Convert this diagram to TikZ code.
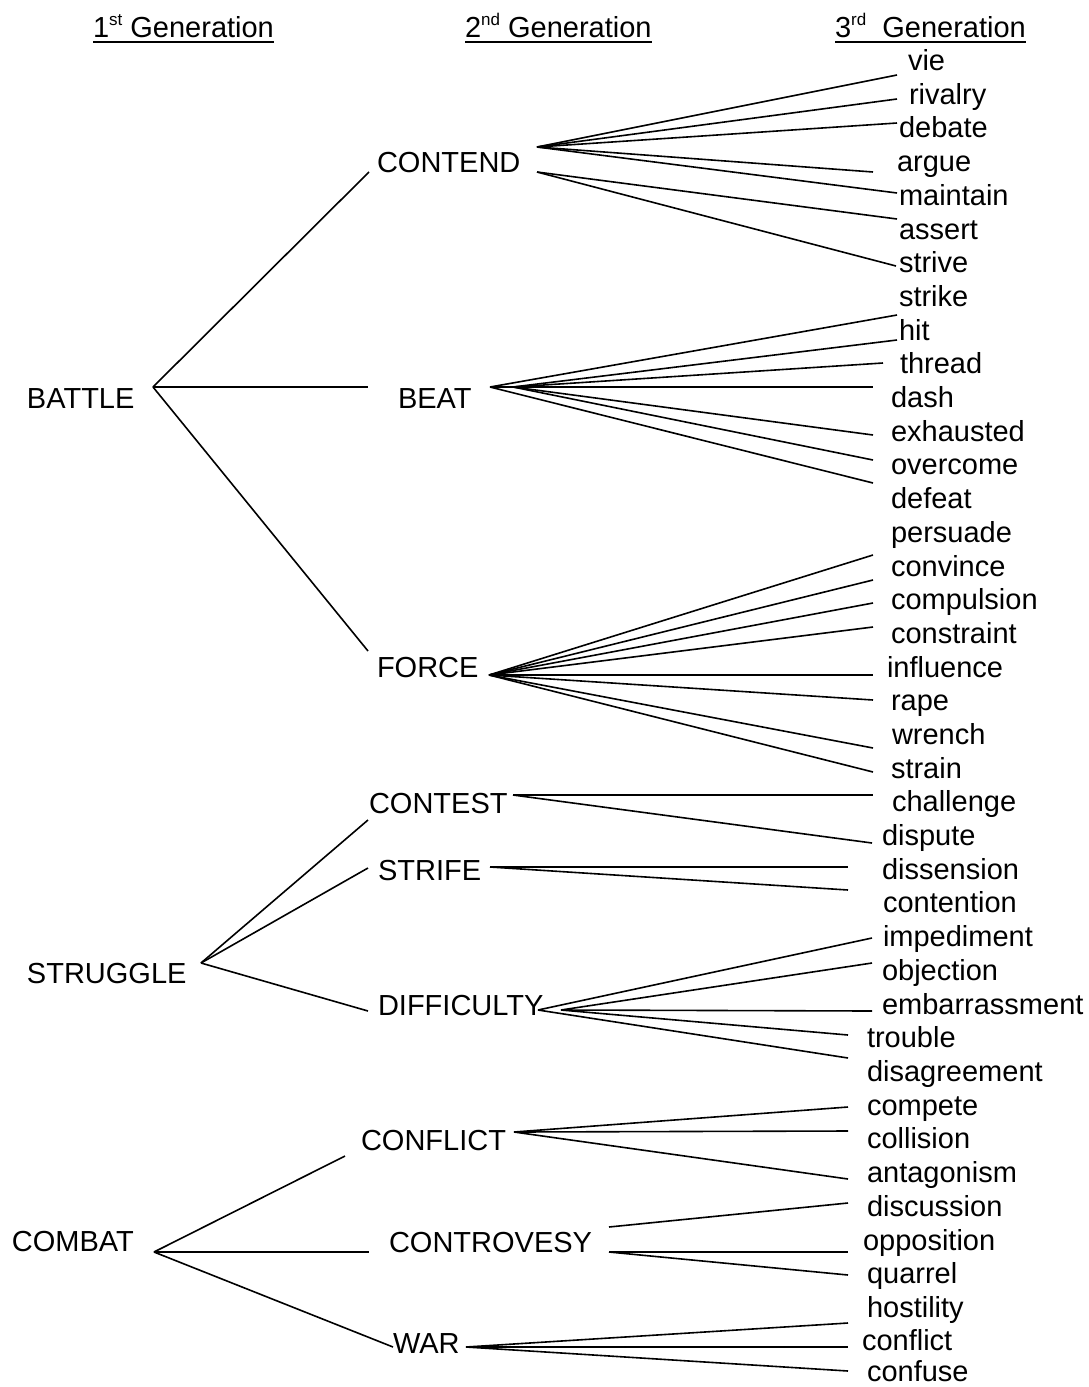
\documentclass[tikz,border=0pt]{standalone}
\usepackage{fontspec}
\setmainfont{Liberation Sans}
\usepackage{tikz}

\newcommand{\gensup}[1]{\raisebox{0.78ex}{\fontsize{17}{17}\selectfont #1}}

\tikzset{
  word/.style={anchor=base west, inner sep=0pt, outer sep=0pt},
}

\begin{document}
\begin{tikzpicture}[x=1pt, y=-1pt, line width=1.6pt, font=\fontsize{29}{34}\selectfont]
    \useasboundingbox (0,0) rectangle (1088,1387);

    % headings
    \node[word](h1) at (93,37) {1\gensup{st} Generation};
    \node[word](h2) at (465,37) {2\gensup{nd} Generation};
    \node[word](h3) at (835,37) {3\gensup{rd}\ \ Generation};
    \draw[line width=2.2pt] ([yshift=-5pt]h1.base west) -- ([yshift=-5pt]h1.base east)
                            ([yshift=-5pt]h2.base west) -- ([yshift=-5pt]h2.base east)
                            ([yshift=-5pt]h3.base west) -- ([yshift=-5pt]h3.base east);

    % 1st generation
    \node[word](battle) at (27,408) {BATTLE};
    \node[word](struggle) at (27,983) {STRUGGLE};
    \node[word](combat) at (12,1251) {COMBAT};

    % 2nd generation
    \node[word](contend) at (377,172) {CONTEND};
    \node[word](beat) at (398,408) {BEAT};
    \node[word](force) at (377,677) {FORCE};
    \node[word](contest) at (369,813) {CONTEST};
    \node[word](strife) at (378,880) {STRIFE};
    \node[word](difficulty) at (378,1015) {DIFFICULTY};
    \node[word](conflict) at (361,1150) {CONFLICT};
    \node[word](controvesy) at (389,1252) {CONTROVESY};
    \node[word](war) at (393,1353) {WAR};

    % 3rd generation
    \node[word](vie) at (908,70) {vie};
    \node[word](rivalry) at (909,104) {rivalry};
    \node[word](debate) at (899,137) {debate};
    \node[word](argue) at (897,171) {argue};
    \node[word](maintain) at (899,205) {maintain};
    \node[word](assert) at (899,239) {assert};
    \node[word](strive) at (899,272) {strive};
    \node[word](strike) at (899,306) {strike};
    \node[word](hit) at (899,340) {hit};
    \node[word](thread) at (900,373) {thread};
    \node[word](dash) at (891,407) {dash};
    \node[word](exhausted) at (891,441) {exhausted};
    \node[word](overcome) at (891,474) {overcome};
    \node[word](defeat) at (891,508) {defeat};
    \node[word](persuade) at (891,542) {persuade};
    \node[word](convince) at (891,576) {convince};
    \node[word](compulsion) at (891,609) {compulsion};
    \node[word](constraint) at (891,643) {constraint};
    \node[word](influence) at (887,677) {influence};
    \node[word](rape) at (891,710) {rape};
    \node[word](wrench) at (892,744) {wrench};
    \node[word](strain) at (891,778) {strain};
    \node[word](challenge) at (892,811) {challenge};
    \node[word](dispute) at (882,845) {dispute};
    \node[word](dissension) at (882,879) {dissension};
    \node[word](contention) at (883,912) {contention};
    \node[word](impediment) at (883,946) {impediment};
    \node[word](objection) at (882,980) {objection};
    \node[word](embarrassment) at (882,1014) {embarrassment};
    \node[word](trouble) at (867,1047) {trouble};
    \node[word](disagreement) at (867,1081) {disagreement};
    \node[word](compete) at (867,1115) {compete};
    \node[word](collision) at (867,1148) {collision};
    \node[word](antagonism) at (867,1182) {antagonism};
    \node[word](discussion) at (867,1216) {discussion};
    \node[word](opposition) at (863,1250) {opposition};
    \node[word](quarrel) at (867,1283) {quarrel};
    \node[word](hostility) at (867,1317) {hostility};
    \node[word](conflictw) at (862,1350) {conflict};
    \node[word](confuse) at (867,1381) {confuse};

    % branch points and line ends
    \coordinate(battleJ) at (153,387);
    \coordinate(struggleJ) at (201,963);
    \coordinate(combatJ) at (154,1252);

    \coordinate(contendL) at (369,172);
    \coordinate(beatL) at (368,387);
    \coordinate(forceL) at (368,651);
    \coordinate(contestL) at (368,820);
    \coordinate(strifeL) at (368,868);
    \coordinate(difficultyL) at (368,1011);
    \coordinate(conflictL) at (345,1156);
    \coordinate(controvesyL) at (369,1252);
    \coordinate(warL) at (393,1347);

    \coordinate(contendJ) at (537,147);
    \coordinate(contendK) at (537,172);
    \coordinate(beatJ) at (490,387);
    \coordinate(beatK) at (513,387);
    \coordinate(forceJ) at (489,675);
    \coordinate(contestJ) at (513,795);
    \coordinate(strifeJ) at (490,867);
    \coordinate(difficultyJ) at (538,1010);
    \coordinate(difficultyK) at (561,1010);
    \coordinate(conflictJ) at (514,1132);
    \coordinate(controvesyJ) at (609,1227);
    \coordinate(controvesyK) at (609,1252);
    \coordinate(warJ) at (466,1347);

    \coordinate(vieE) at (897,75);
    \coordinate(rivalryE) at (897,99);
    \coordinate(debateE) at (897,123);
    \coordinate(argueE) at (873,172);
    \coordinate(maintainE) at (897,193);
    \coordinate(assertE) at (897,219);
    \coordinate(striveE) at (896,266);
    \coordinate(strikeE) at (897,315);
    \coordinate(hitE) at (897,340);
    \coordinate(threadE) at (883,363);
    \coordinate(dashE) at (873,387);
    \coordinate(exhaustedE) at (873,435);
    \coordinate(overcomeE) at (873,460);
    \coordinate(defeatE) at (873,483);
    \coordinate(persuadeE) at (873,555);
    \coordinate(convinceE) at (873,580);
    \coordinate(compulsionE) at (873,603);
    \coordinate(constraintE) at (873,627);
    \coordinate(influenceE) at (873,675);
    \coordinate(rapeE) at (873,700);
    \coordinate(wrenchE) at (873,748);
    \coordinate(strainE) at (873,772);
    \coordinate(challengeE) at (873,795);
    \coordinate(disputeE) at (872,843);
    \coordinate(dissensionE) at (848,867);
    \coordinate(contentionE) at (848,890);
    \coordinate(impedimentE) at (872,938);
    \coordinate(objectionE) at (872,963);
    \coordinate(embarrassmentE) at (872,1011);
    \coordinate(troubleE) at (848,1035);
    \coordinate(disagreementE) at (848,1058);
    \coordinate(competeE) at (848,1107);
    \coordinate(collisionE) at (848,1131);
    \coordinate(antagonismE) at (848,1179);
    \coordinate(discussionE) at (848,1203);
    \coordinate(oppositionE) at (848,1252);
    \coordinate(quarrelE) at (848,1275);
    \coordinate(hostilityE) at (848,1323);
    \coordinate(conflictwE) at (848,1347);
    \coordinate(confuseE) at (848,1371);

    % 1st -> 2nd
    \draw (battleJ) edge (contendL)
          (battleJ) edge (beatL)
          (battleJ) edge (forceL)
          (struggleJ) edge (contestL)
          (struggleJ) edge (strifeL)
          (struggleJ) edge (difficultyL)
          (combatJ) edge (conflictL)
          (combatJ) edge (controvesyL)
          (combatJ) edge (warL);

    % 2nd -> 3rd
    \draw (contendJ) edge (vieE)
          (contendJ) edge (rivalryE)
          (contendJ) edge (debateE)
          (contendJ) edge (argueE)
          (contendJ) edge (maintainE)
          (contendK) edge (assertE)
          (contendK) edge (striveE);
    \draw (beatJ) edge (strikeE)
          (beatK) edge (hitE)
          (beatK) edge (threadE)
          (beatJ) edge (dashE)
          (beatK) edge (exhaustedE)
          (beatK) edge (overcomeE)
          (beatJ) edge (defeatE);
    \draw (forceJ) edge (persuadeE)
          (forceJ) edge (convinceE)
          (forceJ) edge (compulsionE)
          (forceJ) edge (constraintE)
          (forceJ) edge (influenceE)
          (forceJ) edge (rapeE)
          (forceJ) edge (wrenchE)
          (forceJ) edge (strainE);
    \draw (contestJ) edge (challengeE)
          (contestJ) edge (disputeE)
          (strifeJ) edge (dissensionE)
          (strifeJ) edge (contentionE);
    \draw (difficultyJ) edge (impedimentE)
          (difficultyK) edge (objectionE)
          (difficultyK) edge (embarrassmentE)
          (difficultyK) edge (troubleE)
          (difficultyJ) edge (disagreementE);
    \draw (conflictJ) edge (competeE)
          (conflictJ) edge (collisionE)
          (conflictJ) edge (antagonismE)
          (controvesyJ) edge (discussionE)
          (controvesyK) edge (oppositionE)
          (controvesyK) edge (quarrelE)
          (warJ) edge (hostilityE)
          (warJ) edge (conflictwE)
          (warJ) edge (confuseE);
  \end{tikzpicture}
\end{document}
